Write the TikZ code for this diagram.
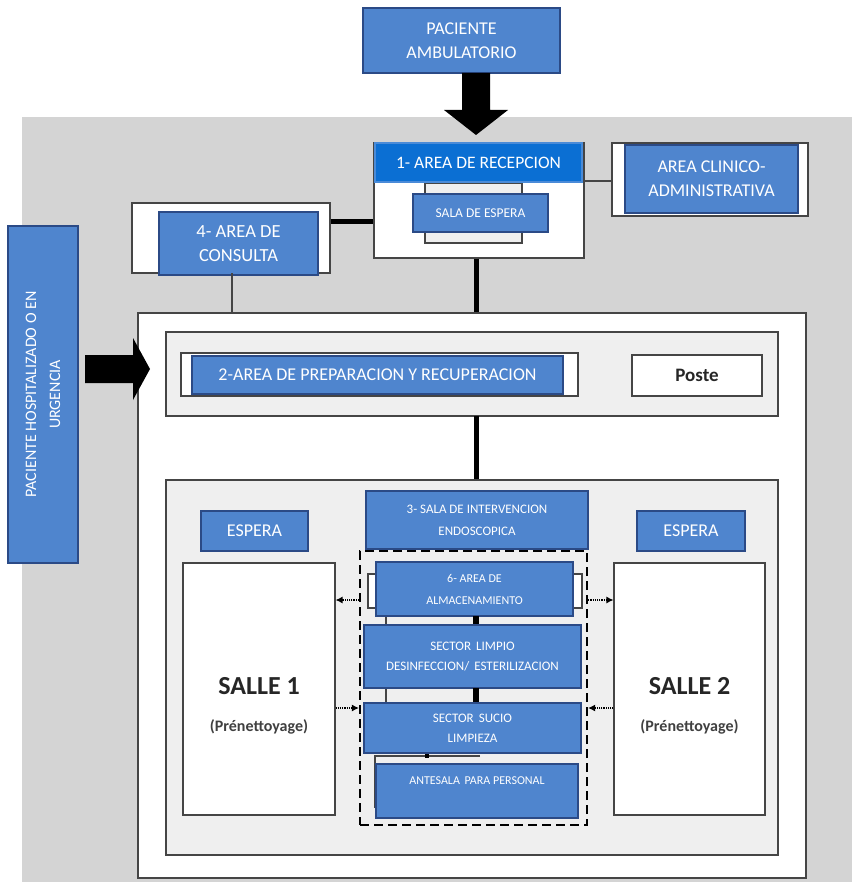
\documentclass[tikz,border=0pt]{standalone}
\usepackage{fontspec}
\setmainfont{Carlito}
\usetikzlibrary{arrows.meta}
\definecolor{bfill}{HTML}{4F85CE}
\definecolor{bline}{HTML}{2B4A86}
\definecolor{hfill}{HTML}{0B6FD3}
\definecolor{hline}{HTML}{4A8BD8}
\definecolor{bg}{HTML}{D4D4D4}
\definecolor{lfill}{HTML}{EFEFEF}
\definecolor{frame}{HTML}{454545}
\newcommand{\fs}[1]{\fontsize{#1}{1.3\dimexpr#1pt\relax}\selectfont}
\begin{document}
\begin{tikzpicture}[x=1pt,y=-1pt,
  bluebox/.style={draw=bline, line width=1.6pt, fill=bfill, text=white, align=center, inner sep=0pt},
  wbox/.style={draw=frame, line width=1.1pt, fill=white, inner sep=0pt},
  gbox/.style={draw=frame, line width=1.1pt, fill=lfill, inner sep=0pt},
  thickline/.style={line width=5pt, black},
  thinline/.style={line width=1.3pt, frame},
  dotarrow/.style={line width=1.2pt, densely dotted, -{Latex[length=7pt,width=7pt]}},
  blockarrow/.style={fill=black, draw=none}]
\useasboundingbox (0,0) rectangle (852,882);
\fill[bg] (22,117) rectangle (852,882);

% top patient
\node[bluebox, minimum width=197, minimum height=65, font=\fontsize{18}{24}\selectfont] (amb) at (461.5,40.5) {PACIENTE\\AMBULATORIO};
\coordinate (ab) at (476,73);
\fill[blockarrow] ([xshift=-14pt]ab) -- ([xshift=14pt]ab) -- ++(0,37) -- ++(18,0) -- (476,135) -- (444,110) -- (462,110) -- cycle;

% reception
\node[wbox, minimum width=210, minimum height=115] (rec) at (479,200.5) {};
\node[draw=frame, line width=1.2pt, fill=lfill, minimum width=97, minimum height=60] (recin) at (473.5,213) {};
\node[draw=hline, line width=1.2pt, fill=hfill, text=white, inner sep=0pt, minimum width=207, minimum height=39, font=\fontsize{17.5}{20}\selectfont] (rech) at (478.5,162.5) {1- AREA DE RECEPCION};
\node[bluebox, minimum width=135, minimum height=38, font=\fontsize{13.5}{16}\selectfont] (sala) at (480.5,213) {SALA DE ESPERA};

% clinico
\node[wbox, minimum width=196, minimum height=73] (clio) at (710,179.5) {};
\node[bluebox, minimum width=173, minimum height=68, font=\fontsize{18}{24}\selectfont] (cli) at (711.5,179) {AREA CLINICO-\\ADMINISTRATIVA};

% consulta
\node[wbox, minimum width=198, minimum height=70] (cono) at (231,238) {};
\node[bluebox, minimum width=159, minimum height=63, font=\fontsize{18.5}{24}\selectfont] (con) at (238.5,243.5) {4- AREA DE\\CONSULTA};

% main
\node[wbox, minimum width=668, minimum height=565] (main) at (472,595.5) {};

% connectors top
\draw[thickline] (rec.south) ++(-3,0) coordinate (rs) -- (rs |- main.north);
\draw[thickline] (cono.east |- 0,222) coordinate (ce) -- (ce -| rec.west);
\draw[thinline] (232,273) coordinate (cs) -- (cs |- main.north);
\draw[line width=2pt, frame] (rec.east |- 0,181) coordinate (re) -- (re -| clio.west);

% hospitalized
\node[bluebox, minimum width=337, minimum height=70, rotate=90, font=\fontsize{16}{24}\selectfont] (hosp) at (43,394.5) {PACIENTE HOSPITALIZADO O EN\\URGENCIA};
\fill[blockarrow] (85,355) -- (133,355) -- (133,338) -- (150,369) -- (133,400) -- (133,383) -- (85,383) -- cycle;

% area 2
\node[gbox, minimum width=612, minimum height=84] (a2o) at (472,374) {};
\node[wbox, minimum width=397, minimum height=43] (a2w) at (379.5,374.5) {};
\node[bluebox, minimum width=371, minimum height=38, font=\fontsize{18}{21}\selectfont] (a2) at (377.5,375) {2-AREA DE PREPARACION Y RECUPERACION};
\node[wbox, minimum width=130, minimum height=41, text=black!85, font=\fontsize{19}{22}\selectfont\bfseries] (poste) at (697,375.5) {Poste};

% lower
\node[gbox, minimum width=612, minimum height=375] (low) at (472,667.5) {};
\draw[thickline] (476,416) coordinate (a2s) -- (a2s |- low.north);

\node[bluebox, minimum width=222, minimum height=58, font=\fontsize{13}{22}\selectfont] (s3) at (477,520) {3- SALA DE INTERVENCION\\ENDOSCOPICA};
\node[bluebox, minimum width=107, minimum height=40, font=\fontsize{18}{21}\selectfont] (espL) at (254.5,531) {ESPERA};
\node[bluebox, minimum width=108, minimum height=40, font=\fontsize{18}{21}\selectfont] (espR) at (691,531) {ESPERA};

\node[wbox, minimum width=152, minimum height=252] (s1) at (259,689) {};
\node[font=\fontsize{26}{30}\selectfont\bfseries, text=black!85] (s1t) at (259,686) {SALLE 1};
\node[font=\fontsize{16}{19}\selectfont\bfseries, text=black!75] (s1p) at (259,727) {(Prénettoyage)};
\node[wbox, minimum width=151, minimum height=252] (s2) at (689.5,689) {};
\node[font=\fontsize{26}{30}\selectfont\bfseries, text=black!85] (s2t) at (689.5,686) {SALLE 2};
\node[font=\fontsize{16}{19}\selectfont\bfseries, text=black!75] (s2p) at (689.5,727) {(Prénettoyage)};

% dashed group
\node[draw=black, line width=2.2pt, dash pattern=on 9pt off 5pt, minimum width=227, minimum height=274, inner sep=0pt] (grp) at (473.5,688) {};
\draw[thinline, line width=1.5pt] (386,606) -- (386,705);
\draw[thinline, line width=1.2pt] (480,756) -- (375,756) -- (375,808);
\draw[line width=4pt] (427,753) -- (427,758);
\node[wbox, minimum width=214, minimum height=34] (almw) at (475,591) {};
\node[bluebox, minimum width=197, minimum height=54, font=\fontsize{12}{22}\selectfont] (alm) at (474.5,589) {6- AREA DE\\ALMACENAMIENTO};
\node[bluebox, minimum width=217, minimum height=63, font=\fontsize{13}{20}\selectfont] (lim) at (472.5,656.5) {SECTOR \,LIMPIO\\DESINFECCION/ \,ESTERILIZACION};
\node[bluebox, minimum width=217, minimum height=50, font=\fontsize{13}{20}\selectfont] (suc) at (472.5,728) {SECTOR \,SUCIO\\LIMPIEZA};
\node[bluebox, minimum width=202, minimum height=54, anchor=north] (ant) at (477,763) {};
\node[text=white, font=\fontsize{12}{14}\selectfont] (antt) at (477,781) {ANTESALA \,PARA PERSONAL};

\draw[line width=6pt] (476,616) coordinate (al) -- (al |- lim.north);
\draw[line width=6pt] (476,688) coordinate (li) -- (li |- suc.north);

% dotted arrows
\draw[dotarrow] (grp.west |- 0,600) coordinate (d1) -- (d1 -| s1.east);
\draw[dotarrow] (grp.east |- 0,600) coordinate (d2) -- (d2 -| s2.west);
\draw[dotarrow] (s1.east |- 0,708) coordinate (d3) -- (d3 -| grp.west);
\draw[dotarrow] (s2.west |- 0,708) coordinate (d4) -- (d4 -| grp.east);
\end{tikzpicture}
\end{document}
